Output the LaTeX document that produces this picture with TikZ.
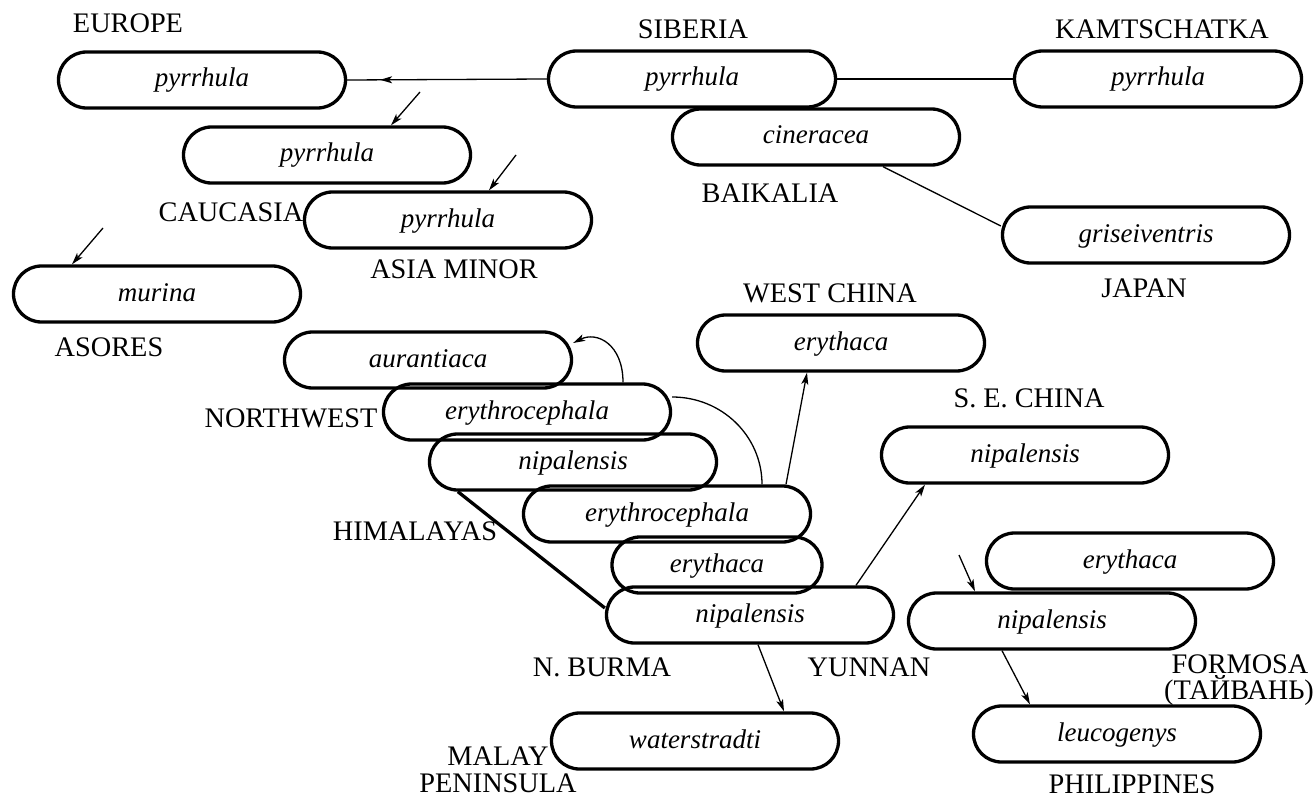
\documentclass[tikz,border=0pt]{standalone}
\usepackage{fontspec}
\setmainfont{Liberation Serif}
\usetikzlibrary{arrows.meta,calc,decorations.markings}
\begin{document}
\begin{tikzpicture}[x=1pt,y=-1pt,
  box/.style={draw, line width=3.3pt, rounded corners=28pt, minimum width=287pt, minimum height=56pt, inner sep=0pt, font=\fontsize{27}{30}\selectfont\itshape, text height=19pt, text depth=5pt},
  nbox/.style={box, minimum width=210pt},
  lab/.style={anchor=base, inner sep=0pt, font=\fontsize{28.3}{30}\selectfont},
  conn/.style={line width=1.3pt},
  tipa/.tip={Stealth[length=12pt,width=7pt,inset=3pt]},
  arr/.style={conn, -tipa},
  heavy/.style={line width=3.3pt}
]
\useasboundingbox (0,0) rectangle (1315,797);

% boxes
\node[box] (eu)  at (202,80)  {pyrrhula};
\node[box] (cau) at (327,155) {pyrrhula};
\node[box] (am)  at (448,220) {pyrrhula};
\node[box] (mur) at (157,294) {murina};
\node[box] (sib) at (692,79)  {pyrrhula};
\node[box] (kam) at (1158,79) {pyrrhula};
\node[box] (cin) at (816,137) {cineracea};
\node[box] (gri) at (1146,235) {griseiventris};
\node[box] (wc)  at (841,343) {erythaca};
\node[box] (aur) at (428,360) {aurantiaca};
\node[box] (nw)  at (527,412) {erythrocephala};
\node[box] (nh)  at (573,462) {nipalensis};
\node[box] (eh)  at (667,514) {erythrocephala};
\node[nbox] (ea) at (717,565) {erythaca};
\node[box] (nb)  at (750,615) {nipalensis};
\node[box] (se)  at (1025,455) {nipalensis};
\node[box] (fe)  at (1130,561) {erythaca};
\node[box] (fn)  at (1052,621) {nipalensis};
\node[box] (leu) at (1117,734) {leucogenys};
\node[box] (wat) at (695,741) {waterstradti};

% labels
\node[lab] (lEU)  at (128,33)  {EUROPE};
\node[lab] (lSIB) at (693,39)  {SIBERIA};
\node[lab] (lKAM) at (1162,39) {KAMTSCHATKA};
\node[lab] (lCAU) at (231,221) {CAUCASIA};
\node[lab] (lAM)  at (454,278) {ASIA MINOR};
\node[lab] (lBAI) at (770,202) {BAIKALIA};
\node[lab] (lJAP) at (1144,297) {JAPAN};
\node[lab] (lASO) at (109,356) {ASORES};
\node[lab] (lWC)  at (830,302) {WEST CHINA};
\node[lab] (lNW)  at (291,427) {NORTHWEST};
\node[lab] (lHIM) at (415,540) {HIMALAYAS};
\node[lab] (lSE)  at (1029,407) {S. E. CHINA};
\node[lab] (lNB)  at (602,676) {N. BURMA};
\node[lab] (lYUN) at (869,676) {YUNNAN};
\node[lab] (lFOR) at (1240,673) {FORMOSA};
\node[lab] (lTAI) at (1239,699) {(ТАЙВАНЬ)};
\node[lab] (lPHI) at (1132,793) {PHILIPPINES};
\node[lab] (lMAL) at (498,765) {MALAY};
\node[lab] (lPEN) at (498,792) {PENINSULA};

% connectors
\draw[conn, postaction={decorate},
  decoration={markings, mark=at position 0.835 with {\arrow{tipa}}}]
  (sib.west) -- (eu.east);
\draw[conn] (sib.east) -- (kam.west);
\draw[conn] ([xshift=67pt]cin.south) -- ([yshift=9pt]gri.west);

\coordinate (fCau) at (420,92);
\coordinate (fAm)  at (516,155);
\coordinate (fMur) at (103,228);
\coordinate (fFn)  at (959,555);
\draw[arr] (fCau) -- ([xshift=64pt]cau.north);
\draw[arr] (fAm)  -- ([xshift=41pt]am.north);
\draw[arr] (fMur) -- ([xshift=-85pt]mur.north);
\draw[arr] (fFn)  -- ([xshift=-77pt]fn.north);

\draw[arr] ([xshift=8pt]nb.south) -- ([xshift=89pt]wat.north);
\draw[arr] ([xshift=119pt]eh.north) -- ([xshift=-34pt]wc.south);
\draw[arr] ([xshift=106pt]nb.north) -- ([xshift=-100pt]se.south);
\draw[arr] ([xshift=-50pt]fn.south) -- ([xshift=-87pt]leu.north);

\draw[arr] ([xshift=96pt]nw.north) .. controls +(0,-38) and +(24,-12) .. ([yshift=17pt]aur.east);
\draw[conn] ([xshift=95pt]eh.north) .. controls +(0,-48) and +(50,0) .. ([yshift=15pt]nw.east);

\draw[heavy] ([xshift=30pt]nh.south west) -- ([yshift=7pt]nb.west);
\end{tikzpicture}
\end{document}
